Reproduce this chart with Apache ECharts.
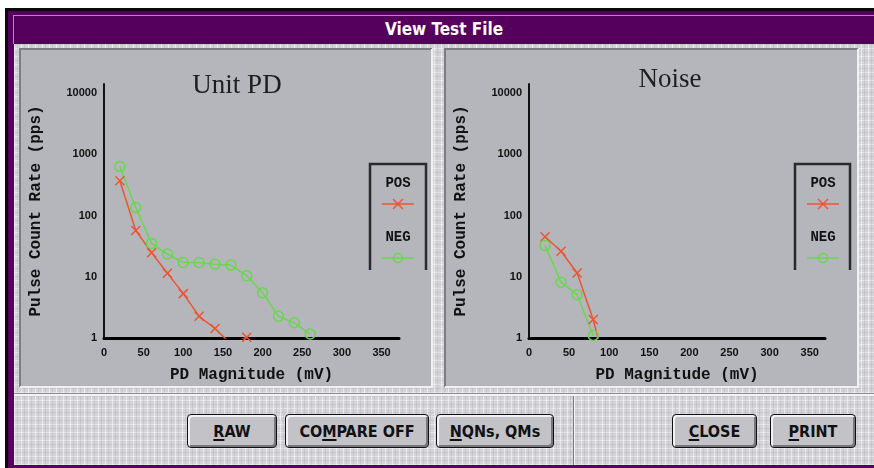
<!DOCTYPE html>
<html><head><meta charset="utf-8">
<script src="https://cdn.jsdelivr.net/npm/echarts@6/dist/echarts.min.js"></script>
<style>
html,body{margin:0;padding:0;background:#fff;}
#win{position:relative;width:874px;height:468px;overflow:hidden;background:#fff;}
.abs{position:absolute;}
.tex{background-color:#d3d3d8;
background-image:
 repeating-linear-gradient(90deg, rgba(255,255,255,.5) 0 1px, transparent 1px 3px, rgba(150,150,160,.22) 3px 4px, transparent 4px 7px),
 repeating-linear-gradient(0deg, rgba(255,255,255,.4) 0 1px, transparent 1px 4px, rgba(150,150,160,.2) 4px 5px, transparent 5px 8px);}
#chart{position:absolute;left:0;top:0;width:874px;height:468px;z-index:5;}
.btn{position:absolute;top:414px;height:34px;box-sizing:border-box;border:1px solid #111;border-radius:4px;background:#c3c3c7;
box-shadow: inset 2px 2px 0 #f2f2f2, inset -2px -2px 0 #77777c;font-family:"DejaVu Sans Condensed","DejaVu Sans",sans-serif;
font-weight:bold;font-size:16px;color:#111;display:flex;align-items:center;justify-content:center;}
.btn u{text-decoration:underline;text-underline-offset:2px;text-decoration-thickness:2px;}
#title{left:14px;top:15px;width:860px;height:29px;line-height:29px;text-align:center;color:#fff;
font-family:"DejaVu Sans Condensed","DejaVu Sans",sans-serif;font-weight:bold;font-size:17px;}
</style></head>
<body>
<div id="win">
 <div class="abs" style="left:5px;top:8px;width:869px;height:460px;background:#0a0a0a"></div>
 <div class="abs" style="left:8px;top:11px;width:866px;height:457px;background:#55005c"></div>
 <div class="abs" style="left:13px;top:15px;width:861px;height:1px;background:#b28ab6"></div>
 <div class="abs" style="left:13px;top:15px;width:1px;height:29px;background:#b28ab6"></div>
 <div class="abs" id="title">View Test File</div>
 <div class="abs tex" style="left:14px;top:44px;width:860px;height:421px;"></div>
 <div class="abs" style="left:14px;top:393px;width:860px;height:1px;background:#8a8a90"></div>
 <div class="abs" style="left:14px;top:394px;width:860px;height:2px;background:#f4f4f6"></div>
 <div class="abs" style="left:573px;top:396px;width:1px;height:69px;background:#7a7a80"></div>
 <div class="abs" style="left:574px;top:396px;width:1px;height:69px;background:#f4f4f6"></div>
 <div class="btn" style="left:187px;width:90px;"><span><u>R</u>AW</span></div>
 <div class="btn" style="left:285px;width:144px;"><span>CO<u>M</u>PARE OFF</span></div>
 <div class="btn" style="left:436px;width:118px;"><span><u>N</u>QNs, QMs</span></div>
 <div class="btn" style="left:672px;width:85px;"><span><u>C</u>LOSE</span></div>
 <div class="btn" style="left:770px;width:86px;"><span><u>P</u>RINT</span></div>
 <div id="chart"></div>
</div>
<script>
// ---- data ----
const xTickStep = 50;
const yTickValues = [1, 10, 100, 1000, 10000];
const unitPosX = [20, 40, 60, 80, 100, 120, 140, 160, 180];
const unitPosY = [370, 57, 24.6, 11.4, 5.3, 2.26, 1.43, 0.8, 1.03];
const unitNegX = [20, 40, 60, 80, 100, 120, 140, 160, 180, 200, 220, 240, 260];
const unitNegY = [630, 135, 35, 23.5, 17, 17, 16, 15.5, 10.4, 5.5, 2.26, 1.77, 1.16];
const noisePosX = [20, 40, 60, 80, 100];
const noisePosY = [45, 26, 11.5, 2.0, 0.2];
const noiseNegX = [20, 40, 60, 80];
const noiseNegY = [32.5, 8.1, 5.1, 1.1];
const panelTitles = ['Unit PD', 'Noise'];
const legendNames = ['POS', 'NEG'];

const RED = '#ec5530', GREEN = '#6ad64e';
const zip = (xs, ys) => xs.map((x, i) => [x, ys[i]]);
const crossPath = 'path://M0,0L10,10M10,0L0,10';

const chart = echarts.init(document.getElementById('chart'), null, {renderer: 'canvas'});

function xAxis(gi, max) {
  return {
    type: 'value', gridIndex: gi, min: 0, max: max, interval: xTickStep,
    axisLine: {show: true, onZero: false, lineStyle: {color: '#000', width: 3}},
    axisTick: {show: false}, splitLine: {show: false},
    axisLabel: {showMaxLabel: false, margin: 9, color: '#111', fontFamily: 'Liberation Sans', fontWeight: 'bold', fontSize: 11},
    name: 'PD Magnitude (mV)', nameLocation: 'middle', nameGap: 29,
    nameTextStyle: {fontFamily: 'Liberation Mono', fontWeight: 'bold', fontSize: 16, color: '#111'}
  };
}
function yAxis(gi) {
  return {
    type: 'log', logBase: 10, gridIndex: gi, min: 1, max: 14000,
    axisLine: {show: true, lineStyle: {color: '#111', width: 2}},
    axisTick: {show: false}, splitLine: {show: false},
    axisLabel: {showMaxLabel: false, margin: 7, color: '#111', fontFamily: 'Liberation Sans', fontWeight: 'bold', fontSize: 11,
      formatter: v => String(Math.round(v))},
    name: 'Pulse Count Rate (pps)', nameLocation: 'middle', nameRotate: 90, nameGap: 60,
    nameTextStyle: {fontFamily: 'Liberation Mono', fontWeight: 'bold', fontSize: 16, color: '#111'}
  };
}
function posSeries(name, gi, data) {
  return {name, type: 'line', xAxisIndex: gi, yAxisIndex: gi, data, clip: true,
    symbol: crossPath, symbolSize: 9,
    itemStyle: {color: RED, borderColor: RED, borderWidth: 1.5},
    lineStyle: {color: RED, width: 1.5}};
}
function negSeries(name, gi, data) {
  return {name, type: 'line', xAxisIndex: gi, yAxisIndex: gi, data, clip: true,
    symbol: 'circle', symbolSize: 10,
    itemStyle: {color: 'rgba(0,0,0,0)', borderColor: GREEN, borderWidth: 1.5},
    lineStyle: {color: GREEN, width: 1.5}};
}
function panel(x, y, w, h) {
  return [
    {type: 'rect', shape: {x: x, y: y, width: w, height: h}, style: {fill: '#b5b6bc'}, z: -10},
    {type: 'polyline', shape: {points: [[x, y + h], [x, y], [x + w, y]]}, style: {stroke: '#7c7c82', lineWidth: 2, fill: null}, z: -9},
    {type: 'polyline', shape: {points: [[x + w, y], [x + w, y + h], [x, y + h]]}, style: {stroke: '#f0f0f2', lineWidth: 2, fill: null}, z: -9}
  ];
}
function legendBox(l, r, top, cx) {
  return [
    {type: 'polyline', shape: {points: [[l, 270], [l, top], [r, top], [r, 270]]}, style: {stroke: '#2a2a2a', lineWidth: 2.5, fill: null}},
    {type: 'text', x: cx, y: 183, style: {text: legendNames[0], fill: '#111', font: 'bold 14px "Liberation Mono"', align: 'center', verticalAlign: 'middle'}},
    {type: 'line', shape: {x1: cx - 16, y1: 204, x2: cx + 16, y2: 204}, style: {stroke: RED, lineWidth: 1.5}},
    {type: 'polyline', shape: {points: [[cx - 5, 199], [cx + 5, 209]]}, style: {stroke: RED, lineWidth: 1.5, fill: null}},
    {type: 'polyline', shape: {points: [[cx + 5, 199], [cx - 5, 209]]}, style: {stroke: RED, lineWidth: 1.5, fill: null}},
    {type: 'text', x: cx, y: 237, style: {text: legendNames[1], fill: '#111', font: 'bold 14px "Liberation Mono"', align: 'center', verticalAlign: 'middle'}},
    {type: 'line', shape: {x1: cx - 16, y1: 258, x2: cx + 16, y2: 258}, style: {stroke: GREEN, lineWidth: 1.5}},
    {type: 'circle', shape: {cx: cx, cy: 258, r: 4.5}, style: {stroke: GREEN, lineWidth: 1.5, fill: 'rgba(0,0,0,0)'}}
  ];
}

const option = {
  animation: false,
  backgroundColor: 'transparent',
  grid: [
    {left: 104, top: 84, width: 295, height: 254},
    {left: 529, top: 84, width: 296, height: 254}
  ],
  xAxis: [xAxis(0, 372), xAxis(1, 369)],
  yAxis: [yAxis(0), yAxis(1)],
  series: [
    posSeries('POS', 0, zip(unitPosX, unitPosY)),
    negSeries('NEG', 0, zip(unitNegX, unitNegY)),
    posSeries('POS', 1, zip(noisePosX, noisePosY)),
    negSeries('NEG', 1, zip(noiseNegX, noiseNegY))
  ],
  graphic: [
    ...panel(20, 49, 412, 338),
    ...panel(445, 49, 413, 338),
    {type: 'text', x: 237, y: 86, style: {text: panelTitles[0], fill: '#1e1e1e', font: '27px "Liberation Serif"', align: 'center', verticalAlign: 'middle'}},
    {type: 'text', x: 670, y: 80, style: {text: panelTitles[1], fill: '#1e1e1e', font: '27px "Liberation Serif"', align: 'center', verticalAlign: 'middle'}},
    ...legendBox(370, 426, 164, 398),
    ...legendBox(795, 850, 164, 823)
  ]
};
chart.setOption(option);
</script>
</body></html>
